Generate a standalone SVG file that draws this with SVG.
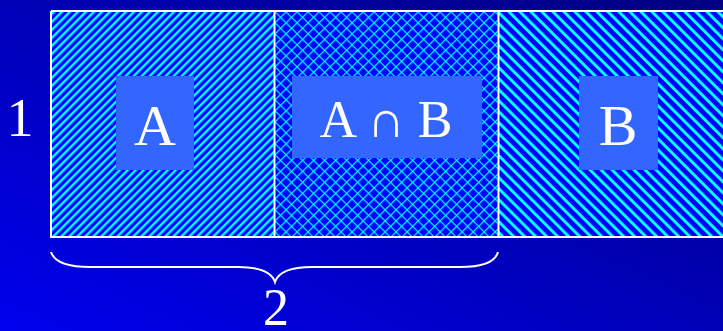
<svg xmlns="http://www.w3.org/2000/svg" width="723" height="331" viewBox="0 0 723 331">
<defs>
<linearGradient id="bg" x1="0" y1="1" x2="1" y2="0">
<stop offset="0" stop-color="#0000ee"/>
<stop offset="1" stop-color="#000080"/>
</linearGradient>
<pattern id="pA" patternUnits="userSpaceOnUse" width="5.66" height="10" patternTransform="rotate(45)">
<rect width="5.66" height="10" fill="#0000ff"/>
<rect width="2.4" height="10" fill="#00ffff"/>
</pattern>
<pattern id="pB" patternUnits="userSpaceOnUse" width="7.78" height="10" patternTransform="rotate(-45)">
<rect width="7.78" height="10" fill="#0000ff"/>
<rect width="3" height="10" fill="#00ffff"/>
</pattern>
<pattern id="pAB" patternUnits="userSpaceOnUse" width="7.78" height="7.78" patternTransform="rotate(45)">
<rect width="7.78" height="7.78" fill="#0000ff"/>
<rect width="1.2" height="7.78" fill="#00ffff"/>
<rect width="7.78" height="1.2" fill="#00ffff"/>
</pattern>
<style>
.lbl{fill:#ffffff;font-family:"Liberation Serif","Times New Roman",serif;text-anchor:middle}
.box{fill:#3366ff}
.edge{fill:none;stroke:#ffffff;stroke-width:2}
</style>
</defs>
<rect width="723" height="331" fill="url(#bg)"/>
<g id="regionA">
<rect x="51" y="11" width="223" height="226" fill="url(#pA)"/>
<rect class="box" x="116" y="76" width="78" height="94"/>
<text class="lbl" x="155" y="145" font-size="58">A</text>
</g>
<g id="regionAB">
<rect x="275" y="11" width="223" height="226" fill="url(#pAB)"/>
<rect class="box" x="292" y="76" width="190" height="82"/>
<text class="lbl" x="386" y="137" font-size="52">A ∩ B</text>
</g>
<g id="regionB">
<rect x="499" y="11" width="226" height="226" fill="url(#pB)"/>
<rect class="box" x="579" y="76" width="79" height="94"/>
<text class="lbl" x="618" y="145" font-size="58">B</text>
</g>
<g id="connectors">
<path class="edge" d="M51 11 H725 M51 11 V237 H725 M274.5 11 V237 M498.5 11 V237"/>
<path class="edge" d="M51 252 Q56 267 90 267 H238 Q270 267 275 282 Q280 267 312 267 H460 Q494 267 498 252"/>
</g>
<text id="label1" class="lbl" x="20" y="136" font-size="54">1</text>
<text id="label2" class="lbl" x="276" y="325" font-size="52">2</text>
</svg>
